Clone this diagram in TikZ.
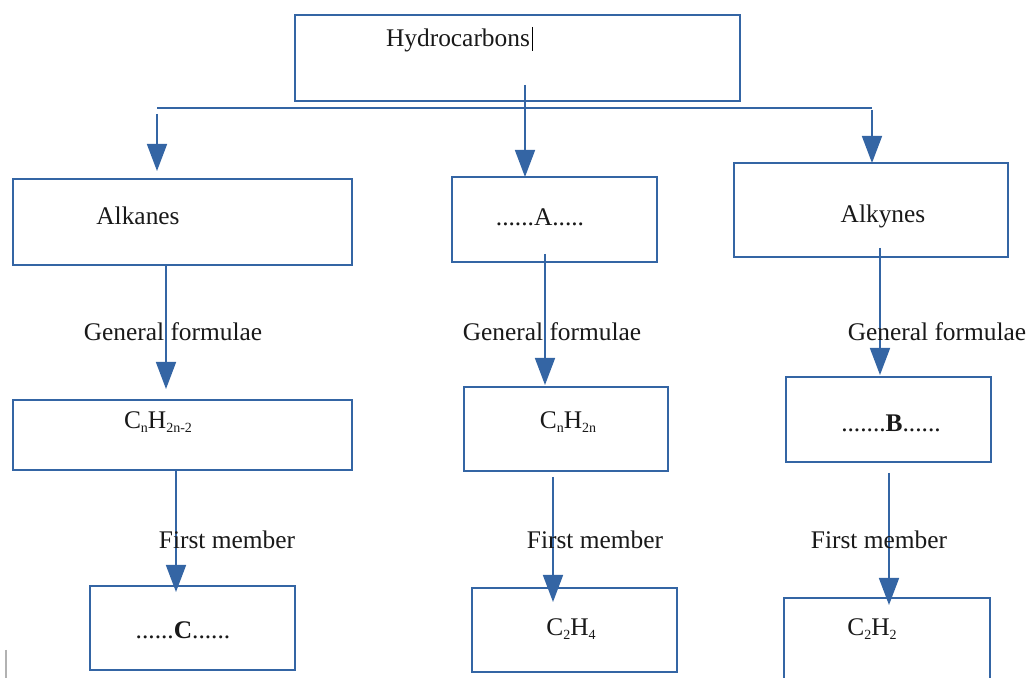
\documentclass[tikz,border=0pt]{standalone}
\usepackage{fontspec}
\setmainfont{Liberation Serif}
\usetikzlibrary{arrows.meta}
\definecolor{lnblue}{HTML}{3465A4}
\newcommand{\lowidx}[1]{\raisebox{-0.3ex}{\fontsize{7}{7}\selectfont #1}}
\begin{document}
\begin{tikzpicture}[x=0.5pt,y=-0.5pt,
 boxst/.style={draw=lnblue, line width=0.9pt, rectangle, inner sep=0pt},
 dims/.style 2 args={minimum width=#1*0.5pt, minimum height=#2*0.5pt},
 lbl/.style={font=\fontsize{12.7}{15}\selectfont, inner sep=0pt, text=black!90},
 conn/.style={draw=lnblue, line width=0.8pt},
 arr/.style={conn, -{Triangle[length=13.5pt,width=10pt]}}]
\useasboundingbox (0,0) rectangle (1030,678);
\clip (0,0) rectangle (1030,678);
\fill[white] (0,0) rectangle (1030,678);

% boxes
\node[boxst, dims={445}{86}] (hyd) at (517.5,58) {};
\node[boxst, dims={339}{86}] (alkanes) at (182.5,222) {};
\node[boxst, dims={205}{85}] (boxA) at (554.5,219.5) {};
\node[boxst, dims={274}{94}] (alkynes) at (871,210) {};
\node[boxst, dims={339}{70}] (f1) at (182.5,435) {};
\node[boxst, dims={204}{84}] (f2) at (566,429) {};
\node[boxst, dims={205}{85}] (f3) at (888.5,419.5) {};
\node[boxst, dims={205}{84}] (m1) at (192.5,628) {};
\node[boxst, dims={205}{84}] (m2) at (574.5,630) {};
\node[boxst, dims={206}{84}] (m3) at (887,640) {};

% texts
\node[lbl] (thyd) at (458,40) {Hydrocarbons};
\draw[black, line width=0.5pt] (532,27) -- (532,51);
\node[lbl] (talk) at (138,216) {Alkanes};
\node[lbl] (tA) at (540,217) {......A.....};
\node[lbl] (talky) at (883,216) {Alkynes};
\node[lbl] (tf1) at (158,422) {C\lowidx{n}H\lowidx{2n-2}};
\node[lbl] (tf2) at (568,422) {C\lowidx{n}H\lowidx{2n}};
\node[lbl] (tf3) at (891,423) {.......\textbf{B}......};
\node[lbl] (tm1) at (183,630) {......\textbf{C}......};
\node[lbl] (tm2) at (571,629) {C\lowidx{2}H\lowidx{4}};
\node[lbl] (tm3) at (872,629) {C\lowidx{2}H\lowidx{2}};

% connector coordinates
\coordinate (bl) at (157,108);
\coordinate (br) at (872,108);
\coordinate (s0a) at (157,114);
\coordinate (e0a) at (157,171);
\coordinate (s0b) at (525,85);
\coordinate (e0b) at (525,177);
\coordinate (s0c) at (872,110);
\coordinate (e0c) at (872,163);
\coordinate (s1a) at (166,265);
\coordinate (e1a) at (166,389);
\coordinate (s1b) at (545,254);
\coordinate (e1b) at (545,385);
\coordinate (s1c) at (880,248);
\coordinate (e1c) at (880,375);
\coordinate (s2a) at (176,470);
\coordinate (e2a) at (176,592);
\coordinate (s2b) at (553,477);
\coordinate (e2b) at (553,602);
\coordinate (s2c) at (889,473);
\coordinate (e2c) at (889,605);

\draw[conn] (bl) -- (br);
\draw[arr] (s0a) -- (e0a);
\draw[arr] (s0b) -- (e0b);
\draw[arr] (s0c) -- (e0c);
\draw[arr] (s1a) -- (e1a);
\draw[arr] (s1b) -- (e1b);
\draw[arr] (s1c) -- (e1c);
\draw[arr] (s2a) -- (e2a);
\draw[arr] (s2b) -- (e2b);
\draw[arr] (s2c) -- (e2c);

% edge labels
\node[lbl] (g1) at (173,332) {General formulae};
\node[lbl] (g2) at (552,332) {General formulae};
\node[lbl] (g3) at (937,332) {General formulae};
\node[lbl] (fm1) at (227,540) {First member};
\node[lbl] (fm2) at (595,540) {First member};
\node[lbl] (fm3) at (879,540) {First member};

\draw[black!30, line width=0.6pt] (6,650) -- (6,678);
\end{tikzpicture}
\end{document}
